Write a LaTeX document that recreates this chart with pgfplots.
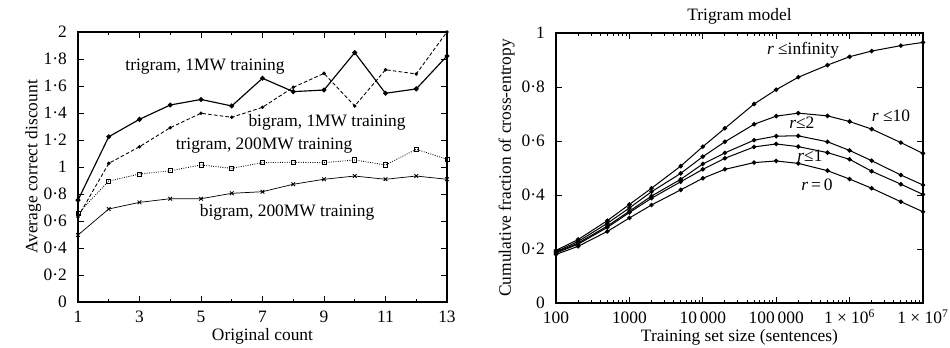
\documentclass[12pt,border=0pt]{standalone}
\usepackage{fontspec}
\setmainfont{Liberation Serif}
\usepackage{pgfplots}
\pgfplotsset{compat=1.18}
\usepackage{pgfplotstable}

\pgfplotstableread{
x   tri1 bi1 tri200 bi200
1   0.755 0.630 0.655 0.496
2   1.224 1.027 0.896 0.689
3   1.353 1.150 0.948 0.738
4   1.459 1.291 0.972 0.765
5   1.500 1.398 1.015 0.765
6   1.452 1.368 0.990 0.805
7   1.657 1.442 1.032 0.817
8   1.558 1.590 1.035 0.872
9   1.570 1.693 1.032 0.909
10  1.847 1.452 1.052 0.933
11  1.546 1.720 1.015 0.909
12  1.578 1.689 1.131 0.933
13  1.822 2.000 1.057 0.909
}\discount

\pgfplotstableread{
x        inf   ten   two   one   zero
100      0.195 0.190 0.187 0.185 0.180
200      0.235 0.228 0.222 0.218 0.210
500      0.305 0.295 0.285 0.280 0.265
1000     0.365 0.352 0.340 0.335 0.315
2000     0.425 0.412 0.396 0.388 0.363
5000     0.507 0.480 0.458 0.449 0.419
10000    0.579 0.542 0.515 0.495 0.462
20000    0.647 0.597 0.556 0.536 0.495
50000    0.737 0.662 0.603 0.578 0.520
100000   0.790 0.692 0.618 0.589 0.526
200000   0.836 0.703 0.619 0.579 0.517
500000   0.881 0.693 0.597 0.557 0.490
1000000  0.912 0.672 0.565 0.532 0.459
2000000  0.933 0.644 0.527 0.488 0.425
5000000  0.953 0.594 0.474 0.440 0.375
10000000 0.965 0.554 0.437 0.402 0.338
}\crossent

\pgfplotsset{
  every axis/.append style={
    scale only axis,
    axis line style={line width=0.9pt},
    tick style={line width=0.6pt, black},
    major tick length=4pt,
    minor tick length=2.2pt,
    tick align=inside,
    xticklabel style={text height=1.6ex, text depth=0.2ex, inner sep=1.5pt, yshift=-3.7pt},
    yticklabel style={inner ysep=1pt, xshift=-3.5pt},
    xlabel style={yshift=2.5pt},
  },
}

\begin{document}
\begin{tikzpicture}
\path[use as bounding box] (0,0) rectangle (655pt,239.26pt);

\begin{axis}[
  at={(53.78pt,31.03pt)}, anchor=south west,
  width=254.4pt, height=186.2pt,
  xmin=1, xmax=13, ymin=0, ymax=2,
  xtick={1,3,...,13},
  minor xtick={2,4,...,12},
  ytick={0,0.2,...,2.01},
  yticklabels={0,0·2,0·4,0·6,0·8,1,1·2,1·4,1·6,1·8,2},
  /pgf/number format/assume math mode=true,
  xlabel={Original count},
  ylabel={Average correct discount},
  ylabel style={yshift=-6.5pt},
  clip=false,
]
\addplot[black, line width=0.8pt, mark=*, mark size=1.3pt] table[x=x,y=tri1] {\discount};
\addplot[black, line width=0.6pt, dash pattern=on 2.5pt off 1.5pt, mark=*, mark size=0.9pt, mark options={solid}] table[x=x,y=bi1] {\discount};
\addplot[black, line width=0.6pt, densely dotted, mark=square, mark size=1.4pt, mark options={solid, line width=0.6pt}] table[x=x,y=tri200] {\discount};
\addplot[black, line width=0.5pt, mark=x, mark size=1.8pt, mark options={solid, line width=0.6pt}] table[x=x,y=bi200] {\discount};
\node at (axis cs:5.13,1.74) {trigram, 1MW training};
\node at (axis cs:9.1,1.333) {bigram, 1MW training};
\node at (axis cs:7.05,1.156) {trigram, 200MW training};
\node at (axis cs:7.8,0.661) {bigram, 200MW training};
\end{axis}

\begin{axis}[
  at={(383.36pt,30.34pt)}, anchor=south west,
  width=253.0pt, height=186.2pt,
  xmode=log,
  xmin=100, xmax=10000000, ymin=0, ymax=1,
  xtick={100,1000,10000,100000,1000000,10000000},
  xticklabels={100,1000,10\,000,100\,000,1 {\texttimes} 10\textsuperscript{6},1 {\texttimes} 10\textsuperscript{7}},
  ytick={0,0.2,...,1.01},
  yticklabels={0,0·2,0·4,0·6,0·8,1},
  title={Trigram model},
  title style={yshift=-4pt},
  xlabel={Training set size (sentences)},
  ylabel={Cumulative fraction of cross-entropy},
  ylabel style={yshift=-3.4pt},
  clip=false,
]
\addplot[black, line width=0.7pt, mark=*, mark size=1.2pt] table[x=x,y=inf] {\crossent};
\addplot[black, line width=0.7pt, mark=*, mark size=1.2pt] table[x=x,y=ten] {\crossent};
\addplot[black, line width=0.7pt, mark=*, mark size=1.2pt] table[x=x,y=two] {\crossent};
\addplot[black, line width=0.7pt, mark=*, mark size=1.2pt] table[x=x,y=one] {\crossent};
\addplot[black, line width=0.7pt, mark=*, mark size=1.2pt] table[x=x,y=zero] {\crossent};
\node at (rel axis cs:0.673,0.937) {\textit{r} ≤infinity};
\node at (rel axis cs:0.913,0.693) {\textit{r} ≤10};
\node at (rel axis cs:0.670,0.666) {\textit{r}≤2};
\node at (rel axis cs:0.692,0.544) {\textit{r}≤1};
\node at (rel axis cs:0.711,0.437) {\textit{r}\,=\,0};
\end{axis}
\end{tikzpicture}
\end{document}
